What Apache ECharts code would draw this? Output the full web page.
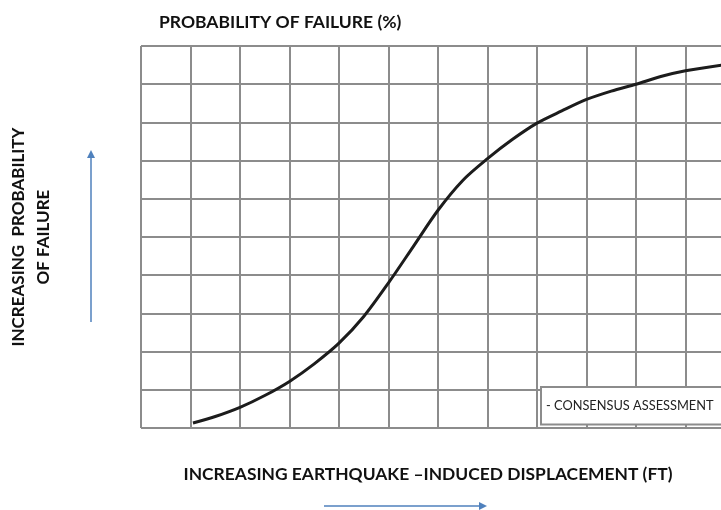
<!DOCTYPE html>
<html>
<head>
<meta charset="utf-8">
<script src="https://cdn.jsdelivr.net/npm/echarts@6/dist/echarts.min.js"></script>
<style>
  html, body { margin: 0; padding: 0; background: #fff; }
  #chart { width: 721px; height: 510px; }
</style>
</head>
<body>
<div id="chart"></div>
<script>
// displacement (grid columns) vs probability (grid rows)
const displacement = [1.05, 1.5, 2, 2.5, 3, 3.5, 4, 4.5, 5, 5.5, 6, 6.5, 7, 7.5, 8, 8.5, 9, 9.5, 10, 10.5, 11, 11.73];
const probability = [0.13, 0.3, 0.54, 0.85, 1.22, 1.68, 2.22, 2.92, 3.8, 4.75, 5.7, 6.48, 7.05, 7.55, 7.98, 8.3, 8.6, 8.82, 9.0, 9.2, 9.35, 9.5];
const seriesName = 'CONSENSUS ASSESSMENT';

const font = 'Lato';
const gridColor = '#8c8c8c';
const arrowColor = '#4f81bd';

const points = displacement.map((x, i) => [x, probability[i]]);

const chart = echarts.init(document.getElementById('chart'));
chart.setOption({
  backgroundColor: '#fff',
  animation: false,
  title: {
    text: 'PROBABILITY OF FAILURE (%)',
    left: 154,
    top: 8,
    textStyle: { fontFamily: font, fontSize: 17.5, fontWeight: 'bold', color: '#111' }
  },
  legend: {
    data: [seriesName],
    left: 541,
    top: 387,
    icon: 'none',
    itemWidth: 0,
    itemGap: 0,
    padding: [12, 10, 12, 0],
    backgroundColor: '#fff',
    borderColor: gridColor,
    borderWidth: 2,
    formatter: name => '- ' + name,
    textStyle: { fontFamily: font, fontSize: 12.8, color: '#222' }
  },
  grid: { left: 141, top: 46, bottom: 82, right: -14, outerBoundsMode: 'none' },
  xAxis: {
    type: 'value',
    min: 0,
    max: 12,
    interval: 1,
    name: 'INCREASING EARTHQUAKE \u2013INDUCED DISPLACEMENT (FT)',
    nameLocation: 'middle',
    nameGap: 38,
    nameTextStyle: { fontFamily: font, fontSize: 17.4, fontWeight: 'bold', color: '#111', padding: [0, 20, 0, 0] },
    axisLine: { show: false },
    axisTick: { show: false },
    axisLabel: { show: false },
    splitLine: { lineStyle: { color: gridColor, width: 2 } }
  },
  yAxis: {
    type: 'value',
    min: 0,
    max: 10,
    interval: 1,
    name: 'INCREASING  PROBABILITY\nOF FAILURE',
    nameLocation: 'middle',
    nameGap: 85,
    nameRotate: 90,
    nameTextStyle: { fontFamily: font, fontSize: 17, fontWeight: 'bold', color: '#111', lineHeight: 25, align: 'center' },
    axisLine: { show: false },
    axisTick: { show: false },
    axisLabel: { show: false },
    splitLine: { lineStyle: { color: gridColor, width: 2 } }
  },
  graphic: [
    // up arrow beside the y label
    { type: 'line', shape: { x1: 91, y1: 322, x2: 91, y2: 156 }, style: { stroke: arrowColor, lineWidth: 1.5 } },
    { type: 'polygon', shape: { points: [[91, 150], [87, 158], [95, 158]] }, style: { fill: arrowColor } },
    // right arrow under the x label
    { type: 'line', shape: { x1: 324, y1: 506, x2: 480, y2: 506 }, style: { stroke: arrowColor, lineWidth: 1.5 } },
    { type: 'polygon', shape: { points: [[487, 506], [479, 502], [479, 510]] }, style: { fill: arrowColor } }
  ],
  series: [
    {
      name: seriesName,
      type: 'line',
      data: points,
      smooth: 0.3,
      showSymbol: false,
      lineStyle: { color: '#1c1c1c', width: 3 },
      itemStyle: { color: '#1c1c1c' },
      z: 3
    }
  ]
});
</script>
</body>
</html>
